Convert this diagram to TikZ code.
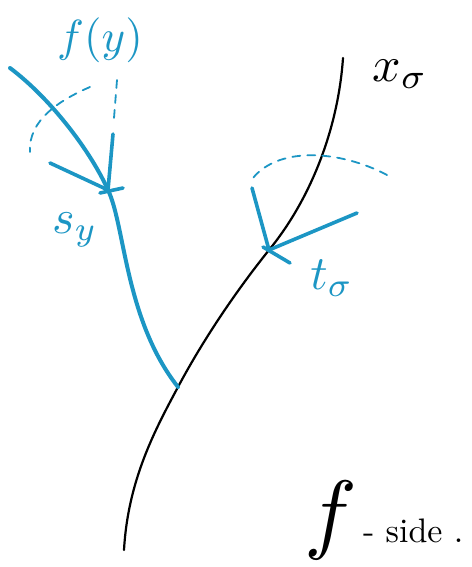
\documentclass[tikz,border=0pt]{standalone}
\definecolor{ink}{RGB}{28,150,196}
\tikzset{
  branch/.style={ink, line width=4pt},
  vecline/.style={ink, line width=3.6pt},
  guide/.style={ink, line width=1.8pt, dash pattern=on 8pt off 7pt},
  lbl/.style={ink, inner sep=0pt},
}
\begin{document}
\begin{tikzpicture}[x=1pt, y=-1pt, line cap=round, line join=round]
  \useasboundingbox (0,0) rectangle (471,567);
  % ── puntos de contacto ──
  \coordinate (sy)   at (108,190);
  \coordinate (tsig) at (269,250);
  \coordinate (join) at (178,387);
  % ── curva negra x_sigma ──
  \draw[line width=2.2pt] (343,58) .. controls (338,130) and (310,200) .. (tsig)
    .. controls (225,305) and (195,355) .. (join)
    .. controls (155,430) and (128,480) .. (124,550);
  % ── rama azul ──
  \draw[branch] (10,68) .. controls (50,98) and (90,150) .. (sy)
    .. controls (125,225) and (125,320) .. (join);
  % ── vectores en s_y ──
  \draw[vecline] (113,134) -- (sy);
  \draw[vecline] (50,163) -- (sy);
  \draw[vecline] (100,193) -- (123,188);
  \draw[guide] (117,80) -- (114,118);
  \draw[guide] (90,87) .. controls (60,100) and (28,120) .. (30,152);
  % ── vectores en t_sigma ──
  \draw[vecline] (252,188) -- (tsig);
  \draw[vecline] (357,213) -- (tsig);
  \draw[vecline] (263,247) -- (290,263);
  \draw[guide] (387,175) .. controls (340,150) and (275,145) .. (250,182);
  % ── rótulos ──
  \node[lbl, scale=4.5] (fy) at (100,40) {$f(y)$};
  \node[lbl, scale=4.8] (sylbl) at (75,230) {$s_y$};
  \node[lbl, scale=4.8] (tlbl) at (332,278) {$t_\sigma$};
  \node[inner sep=0pt, scale=5] (xlbl) at (400,74) {$x_\sigma$};
  \node[inner sep=0pt, scale=3.4] (fside) at (384,520) {$\scalebox{2.6}{$f$}$\,- side .};
\end{tikzpicture}
\end{document}
